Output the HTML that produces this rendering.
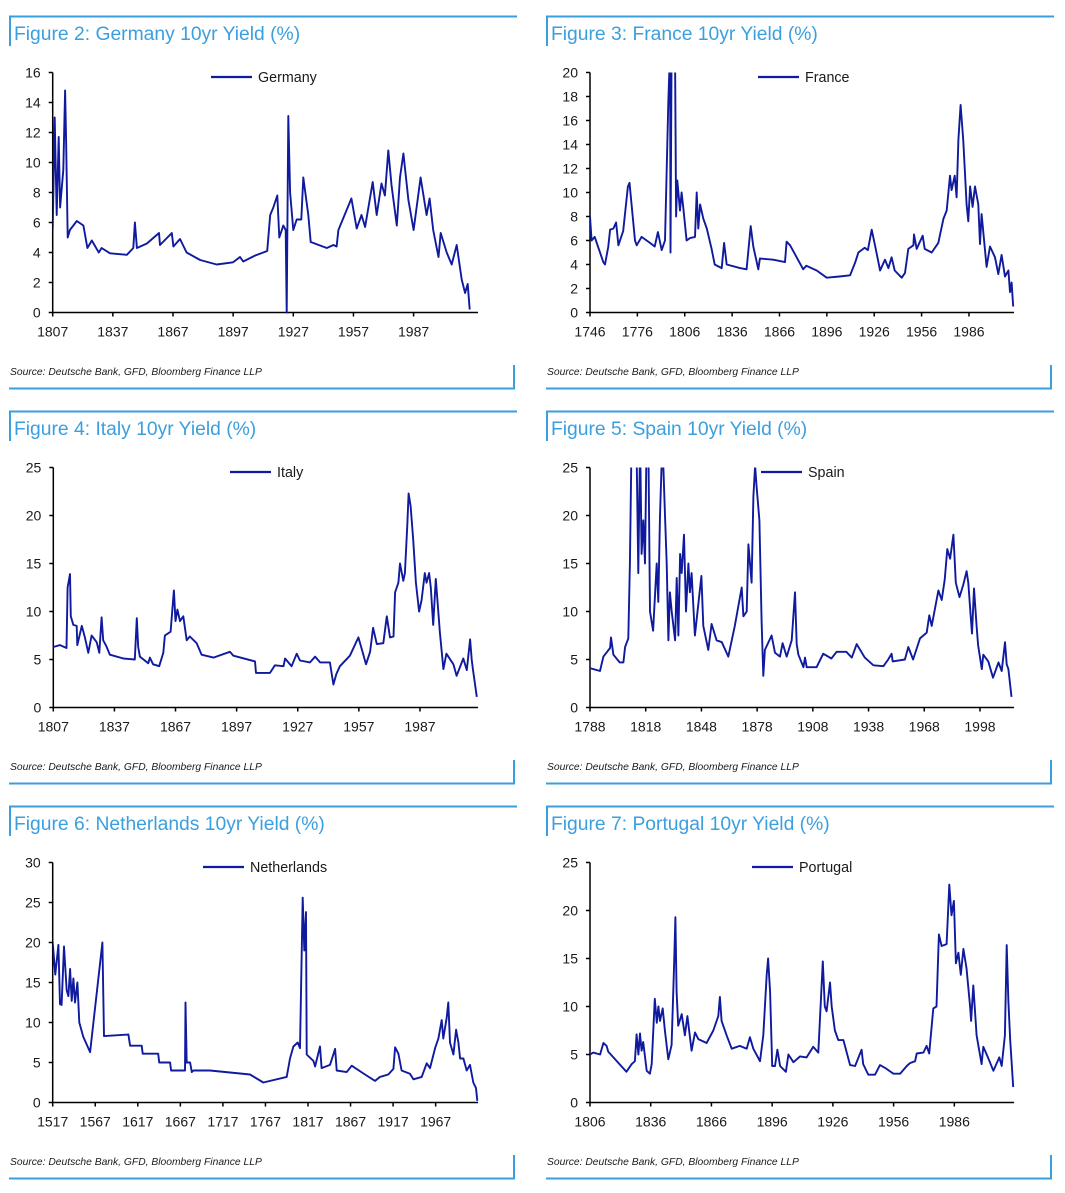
<!DOCTYPE html>
<html><head><meta charset="utf-8"><style>
body{margin:0;background:#fff;}
svg{display:block;font-family:"Liberation Sans",sans-serif;}
</style></head><body>
<svg id="c" width="1065" height="1193" viewBox="0 0 1065 1193"></svg>
<script>
// ---- data (year, yield %) ----
const deYears=[1807,1808,1809,1810,1810.7,1812.3,1813.2,1813.7,1814.5,1815.6,1819,1822.3,1824.3,1826.5,1830,1831.4,1835.6,1844,1847.2,1848,1849,1854,1860,1860.5,1866.4,1867.2,1870.5,1873.8,1880.5,1888.8,1897,1900.4,1902,1908,1914,1915.5,1917,1919,1920,1922,1923.2,1923.7,1924.5,1925.4,1927,1928.7,1931,1932,1934.5,1935.7,1943.7,1947,1948.6,1949.5,1956,1958.6,1961,1962.8,1966.6,1968.6,1971,1972.7,1974.4,1976,1978.6,1980.2,1981.9,1984.4,1987,1990.5,1993.5,1995,1996.8,1999.4,2000.5,2003.5,2006,2008.5,2011,2012.7,2014,2015];
const deVals=[5.5,13,6.5,11.7,7,9.5,14.8,11.5,5,5.5,6.1,5.8,4.3,4.8,4,4.3,3.95,3.85,4.3,6,4.3,4.6,5.3,4.5,5.3,4.4,4.9,4,3.5,3.2,3.35,3.7,3.4,3.8,4.1,6.5,7,7.8,5,5.8,5.5,0,13.1,8,5.5,6.2,6.2,9,6.5,4.7,4.3,4.5,4.4,5.5,7.6,5.6,6.5,5.7,8.7,6.5,8.6,7.8,10.8,8.5,5.8,9,10.6,7.5,5.5,9,6.5,7.6,5.5,3.7,5.3,4,3.2,4.5,2.2,1.3,1.9,0.2];

const frYears=[1746,1747,1749,1754.4,1755.5,1757.6,1758.7,1760.8,1762.5,1764,1767,1770,1771,1774.5,1775.6,1778.7,1784,1787,1789,1791.4,1793.5,1795.6,1796.7,1797,1797.7,1799.8,1800.5,1801.3,1803,1804,1805,1807.2,1809.3,1812.5,1813.6,1814.6,1815.7,1817.8,1820,1823,1825,1829.4,1830.9,1832.6,1841,1845.2,1847.8,1849.4,1852.6,1853.6,1862,1869.5,1870.5,1872.7,1881,1883,1889.6,1895.9,1904,1910.7,1914,1916,1920,1922,1924.4,1926.5,1929.7,1932.8,1935,1937,1939,1943.4,1945.5,1947.6,1950.8,1951.2,1952.9,1956.7,1958,1962.4,1966.6,1969.8,1971.9,1974,1975,1977,1978.2,1979.3,1980.7,1982.4,1984.5,1985.6,1986.7,1988.3,1989.8,1991.9,1993,1994,1997.2,1999.3,2002.5,2004.6,2006.7,2008.8,2011,2012,2013,2014];
const frVals=[8,6,6.3,4.2,4,5.5,6.9,7,7.5,5.6,6.8,10.5,10.8,6,5.6,6.3,5.8,5.5,6.7,5.2,6,17.5,22,5,22,22,8,11,8.5,10,8.8,6,6.2,6.3,10,7,9,7.8,7,5.3,4,3.7,5.8,4,3.7,3.6,7.2,5.5,3.6,4.5,4.4,4.2,5.9,5.6,3.6,3.9,3.5,2.9,3,3.1,4.2,5,5.4,5.2,6.9,5.6,3.5,4.4,3.7,4.6,3.5,2.9,3.3,5.3,5.6,6.5,5.3,6.4,5.3,5,5.8,7.8,8.5,11.4,10.2,11.4,9.6,14.4,17.3,14.3,9,7.6,10.5,8.8,10.5,9,5.7,8.2,3.8,5.5,4.6,3.2,4.8,3,3.5,1.7,2.5,0.5];

const itYears=[1807,1810.3,1813.5,1814,1815.2,1815.6,1816.8,1818.5,1818.8,1821,1822.5,1824.2,1825.8,1828.3,1829.6,1830.7,1831.5,1833,1834.8,1841.4,1847,1848,1848.7,1849.5,1853.6,1854.4,1856,1859,1861,1861.8,1864.6,1866.2,1867,1867.9,1869.2,1870.8,1872.5,1874,1877.4,1879.8,1885.6,1893.7,1895.4,1906,1906.5,1913.4,1915.8,1920,1920.8,1924,1926.5,1928.1,1933,1935.5,1938,1942.8,1944.5,1946,1947.7,1952.6,1956.8,1958.4,1960.5,1962.5,1964,1965.8,1969,1970.7,1972.3,1974,1974.8,1976.4,1977.2,1978.8,1979.6,1980.8,1981.4,1982.4,1983.7,1985,1986.6,1987.8,1989.4,1990.2,1991.5,1992.3,1993.5,1994.8,1996.8,1998.5,2000,2003.4,2005,2008.3,2010,2011.6,2012.4,2013,2014.9];
const itVals=[6.3,6.5,6.2,12.5,13.9,9.5,8.6,8.5,6.5,8.5,7.3,5.7,7.5,6.8,5.7,9.4,7,6.4,5.5,5.1,5,9.3,6.3,5.3,4.6,5.2,4.5,4.3,5.7,7.5,7.9,12.2,9,10.2,9,9.5,7,7.4,6.7,5.5,5.2,5.8,5.4,4.8,3.6,3.6,4.4,4.3,5.1,4.3,5.6,4.9,4.7,5.3,4.7,4.7,2.4,3.5,4.3,5.4,7.3,6.1,4.5,5.8,8.3,6.6,6.7,9.5,7.3,7.4,12,13,15,13.2,14,19,22.3,21,17.5,13,10,11.2,14,13,14,12.5,8.6,13.4,7.8,4,5.6,4.5,3.3,5.1,3.9,7.1,5,4,1.1];

const esYears=[1788,1793.4,1795.2,1798.8,1799.3,1800.6,1804,1806,1806.9,1808.6,1809.5,1810.4,1813,1814,1815,1815.8,1816.7,1817.6,1818.5,1819.4,1820.3,1822,1823.9,1824.8,1825.7,1827,1828.4,1829.3,1830.2,1831,1832,1833.8,1834.7,1835.6,1836.5,1837.4,1838.6,1839.7,1841,1841.8,1842.7,1844.5,1848,1849,1851.7,1853.5,1856.2,1859,1862.5,1866,1869.7,1870.6,1872.4,1873.3,1875,1876,1876.9,1877.7,1879.2,1880.4,1881.3,1882.2,1885.8,1887.6,1890.3,1891.7,1893.9,1896.6,1898.4,1899.3,1900.2,1902.9,1903.8,1904.7,1910,1913.6,1918,1920.8,1926,1929,1931.6,1936,1940.6,1946,1948.6,1950.4,1951,1957.6,1959.4,1962,1965.7,1969.3,1970.7,1972,1975.6,1977.4,1979,1980.4,1981.9,1983.7,1985,1987,1989,1990.8,1991.7,1993,1993.7,1994.8,1996.2,1997,1999,1999.8,2002.5,2005,2008,2009.7,2011.5,2012.4,2013.3,2015];
const esVals=[4.1,3.8,5.3,6.2,7.3,5.5,4.7,4.7,6.3,7.2,15,28,28,14,28,16,19.5,15,28,28,10,8,15,11,20,28,20,15,7,12,10,7,13.5,7.5,16,14,18,10,15,12,14,7.5,13.7,8.5,6,8.7,7,6.8,5.3,8.5,12.5,9.5,10,17,13,22,25.2,23,19.5,9,3.3,6,7.5,5.7,5.3,6.7,5.3,7,12,6.6,5.5,4.2,5.2,4.2,4.2,5.6,5.1,5.8,5.8,5.2,6.6,5.2,4.4,4.3,5,5.6,4.8,5,6.3,5,7.2,7.8,9.6,8.5,12.2,11.2,13.3,16.5,15.5,18,13,11.5,12.8,14.2,13,9.5,7.7,12.4,8.5,6.5,4,5.5,4.8,3.1,4.7,3.8,6.8,4.5,4,1.1];

const nlYears=[1517,1520,1523.7,1525.6,1527.5,1530.3,1533.4,1535.4,1537.4,1539.3,1541.3,1543.2,1546,1548.3,1553,1560.9,1575.4,1577.3,1606,1608,1621.6,1622.8,1641,1642.2,1654.9,1656.1,1672.5,1673,1674.5,1678.4,1680.4,1682.3,1701.9,1748.9,1764.5,1792,1795.9,1799.8,1804.9,1807.6,1810.8,1812.7,1814.7,1815.5,1823.3,1825.3,1831.1,1833,1842.9,1848.8,1850.7,1862.5,1868.3,1884,1895.8,1901.6,1911.4,1917.3,1919.3,1923.2,1927,1936.8,1940.8,1950.6,1956.5,1960.4,1966.3,1970.2,1974.1,1976,1980,1981.9,1983.9,1987.8,1991,1993.7,1995.7,1999.6,2003.5,2007.4,2011.3,2014.4,2016];
const nlVals=[20,16,19.7,12.3,12.2,19.5,14,13.3,16.7,12.7,15.5,12.5,15,10,8.2,6.3,20,8.3,8.5,7.1,7.1,6.1,6.1,5,5,4,4,12.5,5,5,3.8,4,4,3.5,2.5,3.2,5.5,7,7.5,6.8,25.6,19,23.8,6,5.2,4.5,7,4.3,4.7,6.7,4,3.8,4.6,3.5,2.7,3.2,3.5,4.2,6.9,6.1,4,3.6,2.9,3.2,4.9,4.3,6.8,8,10.3,8,10.6,12.5,7.5,6,9.1,7.5,5.5,5.5,4,4.7,2.5,1.8,0.2];

const ptYears=[1806,1807.6,1811,1812.6,1814.2,1815,1824,1826.6,1828.2,1829,1829.9,1830.7,1831.5,1832.3,1834,1835.6,1836.5,1838,1839,1839.8,1840.6,1841.9,1843,1844.7,1846.3,1847.5,1848.2,1848.8,1849.6,1851.3,1852.9,1854.1,1856.2,1857.9,1859.5,1863.6,1866.9,1869.4,1870.2,1871,1873.5,1876,1880,1883.4,1885,1886.7,1890,1891.6,1893.3,1894,1895,1896,1897.4,1898.6,1899.9,1902.8,1904,1906.5,1909.8,1913,1916.3,1918.8,1921,1922,1922.9,1924.6,1925.4,1927,1928.7,1931.2,1934.5,1937,1940.2,1941,1943.5,1946.8,1949.3,1951.8,1955.9,1959.2,1962.5,1964.1,1966.6,1967.4,1970.7,1972.3,1973.6,1975.6,1977.2,1978.4,1979.7,1982.2,1983.5,1984.6,1985.8,1986.8,1988,1989.2,1990.5,1992,1993.8,1994.3,1995.4,1997,1999.5,2000.3,2002.8,2005.3,2008.2,2009.4,2011,2011.9,2012.7,2013.6,2015.1];
const ptVals=[5,5.2,5,6.2,5.9,5.3,3.2,4,4.3,7.1,5,7.2,5.4,6.3,3.3,3,4,10.8,8.3,10,8.5,9.8,7.5,4.5,6,14,19.3,11.5,8,9.2,7,9,5.4,7.3,6.6,6.2,7.5,9,11,8.5,7,5.6,5.9,5.6,6.8,5.6,4.3,7,13.3,15,11.5,3.8,3.8,5.5,3.8,3.2,5,4.2,4.8,4.7,5.8,5.2,14.7,10,9.5,12.5,10,7.5,6.5,6.5,3.9,3.8,5.5,4,2.9,2.9,3.9,3.6,3,3,3.8,4.1,4.3,5.1,5.2,5.9,5.1,9.8,10,17.5,16.3,16.5,22.7,19.5,21,14.5,15.6,13.3,16,14,10,8.5,12.2,7,4,5.8,4.6,3.3,4.7,3.8,7,16.4,10.5,6.5,1.6];

const deTicks=[1807,1837,1867,1897,1927,1957,1987];
const frTicks=[1746,1776,1806,1836,1866,1896,1926,1956,1986];
const itTicks=[1807,1837,1867,1897,1927,1957,1987];
const esTicks=[1788,1818,1848,1878,1908,1938,1968,1998];
const nlTicks=[1517,1567,1617,1667,1717,1767,1817,1867,1917,1967];
const ptTicks=[1806,1836,1866,1896,1926,1956,1986];

// ---- layout ----
const NS='http://www.w3.org/2000/svg';
const svg=document.getElementById('c');
function mk(tag,attrs,parent){const e=document.createElementNS(NS,tag);for(const k in attrs)e.setAttribute(k,attrs[k]);(parent||svg).appendChild(e);return e;}
const panels=[
 {key:'germany',fig:2,name:'Germany',px:0,oy:0,x0:52.7,ppy:2.005,y0:1807,ymax:16,ystep:2,ticks:deTicks,years:deYears,vals:deVals,xEnd:478,leg:211},
 {key:'france',fig:3,name:'France',px:537,oy:0,x0:590,ppy:1.579,y0:1746,ymax:20,ystep:2,ticks:frTicks,years:frYears,vals:frVals,xEnd:1014,leg:758},
 {key:'italy',fig:4,name:'Italy',px:0,oy:395,x0:53.3,ppy:2.037,y0:1807,ymax:25,ystep:5,ticks:itTicks,years:itYears,vals:itVals,xEnd:478,leg:230},
 {key:'spain',fig:5,name:'Spain',px:537,oy:395,x0:590,ppy:1.857,y0:1788,ymax:25,ystep:5,ticks:esTicks,years:esYears,vals:esVals,xEnd:1014,leg:761},
 {key:'netherlands',fig:6,name:'Netherlands',px:0,oy:790,x0:52.7,ppy:0.851,y0:1517,ymax:30,ystep:5,ticks:nlTicks,years:nlYears,vals:nlVals,xEnd:478,leg:203},
 {key:'portugal',fig:7,name:'Portugal',px:537,oy:790,x0:590,ppy:2.024,y0:1806,ymax:25,ystep:5,ticks:ptTicks,years:ptYears,vals:ptVals,xEnd:1014,leg:752}
];
const BLUE='#3a9fdf', LINE='#0f1a9e', TXT='#1a1a1a';
const defs=mk('defs',{});
panels.forEach((p,i)=>{
  const g=mk('g',{});
  
  
  const L=9+p.px, R=517+p.px;
  const bTop=mk('line',{x1:L,y1:16.5+p.oy,x2:R,y2:16.5+p.oy,stroke:BLUE,'stroke-width':2},g);
  
  
  mk('line',{x1:L+1,y1:16+p.oy,x2:L+1,y2:46+p.oy,stroke:BLUE,'stroke-width':2},g);
  const t=mk('text',{x:L+5,y:40+p.oy,'font-size':19.3,fill:BLUE},g);
  t.textContent='Figure '+p.fig+': '+p.name+' 10yr Yield (%)';
  
  
  const s=mk('text',{x:L+1,y:375+p.oy,'font-size':10.3,'font-style':'italic',fill:TXT},g);
  s.textContent='Source: Deutsche Bank, GFD, Bloomberg Finance LLP';
  
  
  mk('line',{x1:L,y1:388.5+p.oy,x2:L+506,y2:388.5+p.oy,stroke:BLUE,'stroke-width':2},g);
  mk('line',{x1:L+505,y1:365+p.oy,x2:L+505,y2:389+p.oy,stroke:BLUE,'stroke-width':2},g);

  const yB=312.5+p.oy, yT=72.5+p.oy;
  const X=yr=>p.x0+(yr-p.y0)*p.ppy;
  const Y=v=>yB-(v/p.ymax)*(yB-yT);
  const ax=mk('g',{stroke:'#000','stroke-width':1.5},g);
  
  
  mk('line',{x1:p.x0,y1:yT,x2:p.x0,y2:yB,},ax);
  mk('line',{x1:p.x0,y1:yB,x2:p.xEnd,y2:yB},ax);
  for(let v=0;v<=p.ymax;v+=p.ystep){
    mk('line',{x1:p.x0-4,y1:Y(v),x2:p.x0,y2:Y(v)},ax);
    const tl=mk('text',{x:p.x0-12,y:Y(v)+5,'font-size':14,'text-anchor':'end',fill:TXT,stroke:'none'},g);
    tl.textContent=v;
    
    
  }
  p.ticks.forEach(yr=>{
    mk('line',{x1:X(yr),y1:yB,x2:X(yr),y2:yB+4},ax);
    const tl=mk('text',{x:X(yr),y:yB+24,'font-size':14,'text-anchor':'middle',fill:TXT},g);
    tl.textContent=yr;
    
    
  });
  const cp=mk('clipPath',{id:'clip'+i},defs);
  mk('rect',{x:p.x0,y:yT,width:p.xEnd-p.x0+5,height:yB-yT+1},cp);
  let d='';
  p.years.forEach((yr,j)=>{d+=(j?'L':'M')+X(yr).toFixed(1)+','+Y(p.vals[j]).toFixed(1);});
  const path=mk('path',{d:d,fill:'none',stroke:LINE,'stroke-width':1.9,'stroke-linejoin':'round','clip-path':'url(#clip'+i+')'},g);
  
  
  const lg=mk('g',{},g);
  
  
  mk('line',{x1:p.leg,y1:77+p.oy,x2:p.leg+41,y2:77+p.oy,stroke:LINE,'stroke-width':2.2},lg);
  const lt=mk('text',{x:p.leg+47,y:82+p.oy,'font-size':14.3,fill:TXT},lg);
  lt.textContent=p.name;
});
</script>
</body></html>
